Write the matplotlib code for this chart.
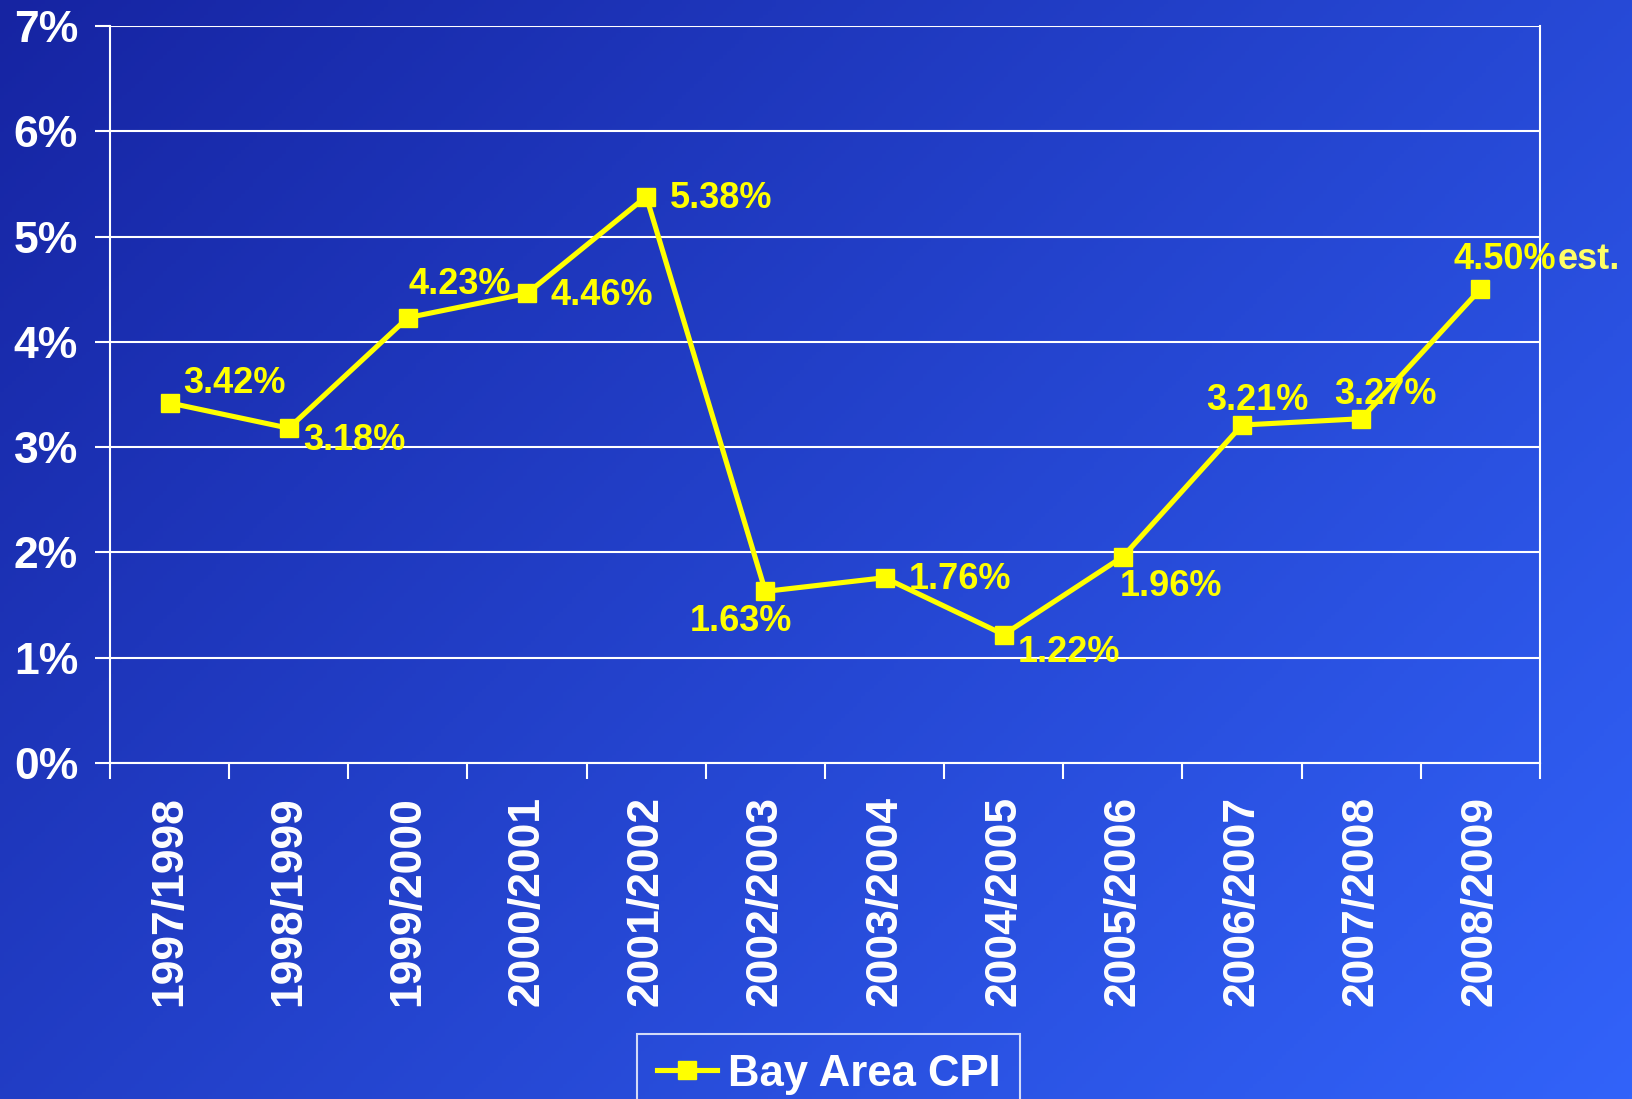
import matplotlib
matplotlib.use('Agg')
import matplotlib.pyplot as plt
import numpy as np

plt.rcParams['font.family'] = ['Liberation Sans', 'DejaVu Sans']
plt.rcParams['font.weight'] = 'bold'

years = ['1997/1998', '1998/1999', '1999/2000', '2000/2001', '2001/2002', '2002/2003',
         '2003/2004', '2004/2005', '2005/2006', '2006/2007', '2007/2008', '2008/2009']
cpi = [3.42, 3.18, 4.23, 4.46, 5.38, 1.63, 1.76, 1.22, 1.96, 3.21, 3.27, 4.50]
point_labels = ['3.42%', '3.18%', '4.23%', '4.46%', '5.38%', '1.63%',
                '1.76%', '1.22%', '1.96%', '3.21%', '3.27%', '4.50%']
# label offsets from the point, in pixels (x right, y up)
label_dx = [14, 14, 1, 23, 24, -76, 24, 14, -3, -36, -27, -27]
label_dy = [19, -12, 33, -2, -2, -30, -2, -18, -30, 25, 24, 30]

W, H = 1633, 1099
fig = plt.figure(figsize=(W / 100, H / 100), dpi=100)

# diagonal blue gradient background
bg = fig.add_axes([0, 0, 1, 1], zorder=-10)
gx, gy = np.meshgrid(np.linspace(0, 1, 400), np.linspace(0, 1, 300))
t = (gx * 0.6 + gy * 0.4)
c0 = np.array([22, 36, 162]) / 255.0
c1 = np.array([50, 99, 250]) / 255.0
img = c0[None, None, :] * (1 - t[..., None]) + c1[None, None, :] * t[..., None]
bg.imshow(img, aspect='auto', extent=[0, 1, 0, 1], origin='upper')
bg.axis('off')

ax = fig.add_axes([110 / W, 1 - 763 / H, 1430 / W, 737 / H])
ax.set_facecolor('none')

x = np.arange(len(years))
ax.plot(x, cpi, color='#ffff00', lw=3.7, marker='s', markersize=13.5,
        markerfacecolor='#ffff00', markeredgecolor='#ffff00', label='Bay Area CPI',
        zorder=5, clip_on=False)

for i in range(len(cpi)):
    ax.annotate(point_labels[i], (x[i], cpi[i]), xytext=(label_dx[i], label_dy[i]),
                textcoords='offset pixels', ha='left', va='center',
                color='#ffff00', fontsize=26, fontweight='bold', zorder=6)
ax.annotate('est.', (x[-1], cpi[-1]), xytext=(label_dx[-1] + 104, label_dy[-1]),
            textcoords='offset pixels', ha='left', va='center',
            color='#ffff66', fontsize=26, fontweight='bold', zorder=6,
            annotation_clip=False)

ax.set_xlim(-0.5, len(years) - 0.5)
ax.set_ylim(0, 7)
ax.set_yticks(range(8))
ax.set_yticklabels(['%d%%' % v for v in range(8)])
ax.yaxis.grid(True, color='white', lw=1.5)
ax.set_axisbelow(True)

ax.set_xticks(x)
ax.set_xticklabels(years, rotation=90, va='top', ha='center')
ax.set_xticks(np.arange(-0.5, len(years)), minor=True)
ax.tick_params(axis='x', which='major', length=0, pad=24, labelsize=32, labelcolor='white')
ax.tick_params(axis='x', which='minor', length=11.5, width=1.5, color='white', direction='out')
ax.tick_params(axis='y', length=11, width=1.5, color='white', pad=12, labelsize=32,
               labelcolor='white')

for side in ['left', 'bottom', 'right']:
    ax.spines[side].set_color('white')
    ax.spines[side].set_linewidth(1.5)
ax.spines['top'].set_visible(False)

leg = ax.legend(loc='upper left', bbox_to_anchor=(637 / W, 1 - 1034 / H),
                bbox_transform=fig.transFigure, borderaxespad=0, fancybox=False,
                frameon=True, facecolor='none', edgecolor='white', fontsize=31.5,
                handlelength=1.38, handletextpad=0.25, borderpad=0.45)
leg.get_frame().set_linewidth(1.5)
for txt in leg.get_texts():
    txt.set_color('white')
    txt.set_fontweight('bold')

fig.savefig('out.png', dpi=100)
